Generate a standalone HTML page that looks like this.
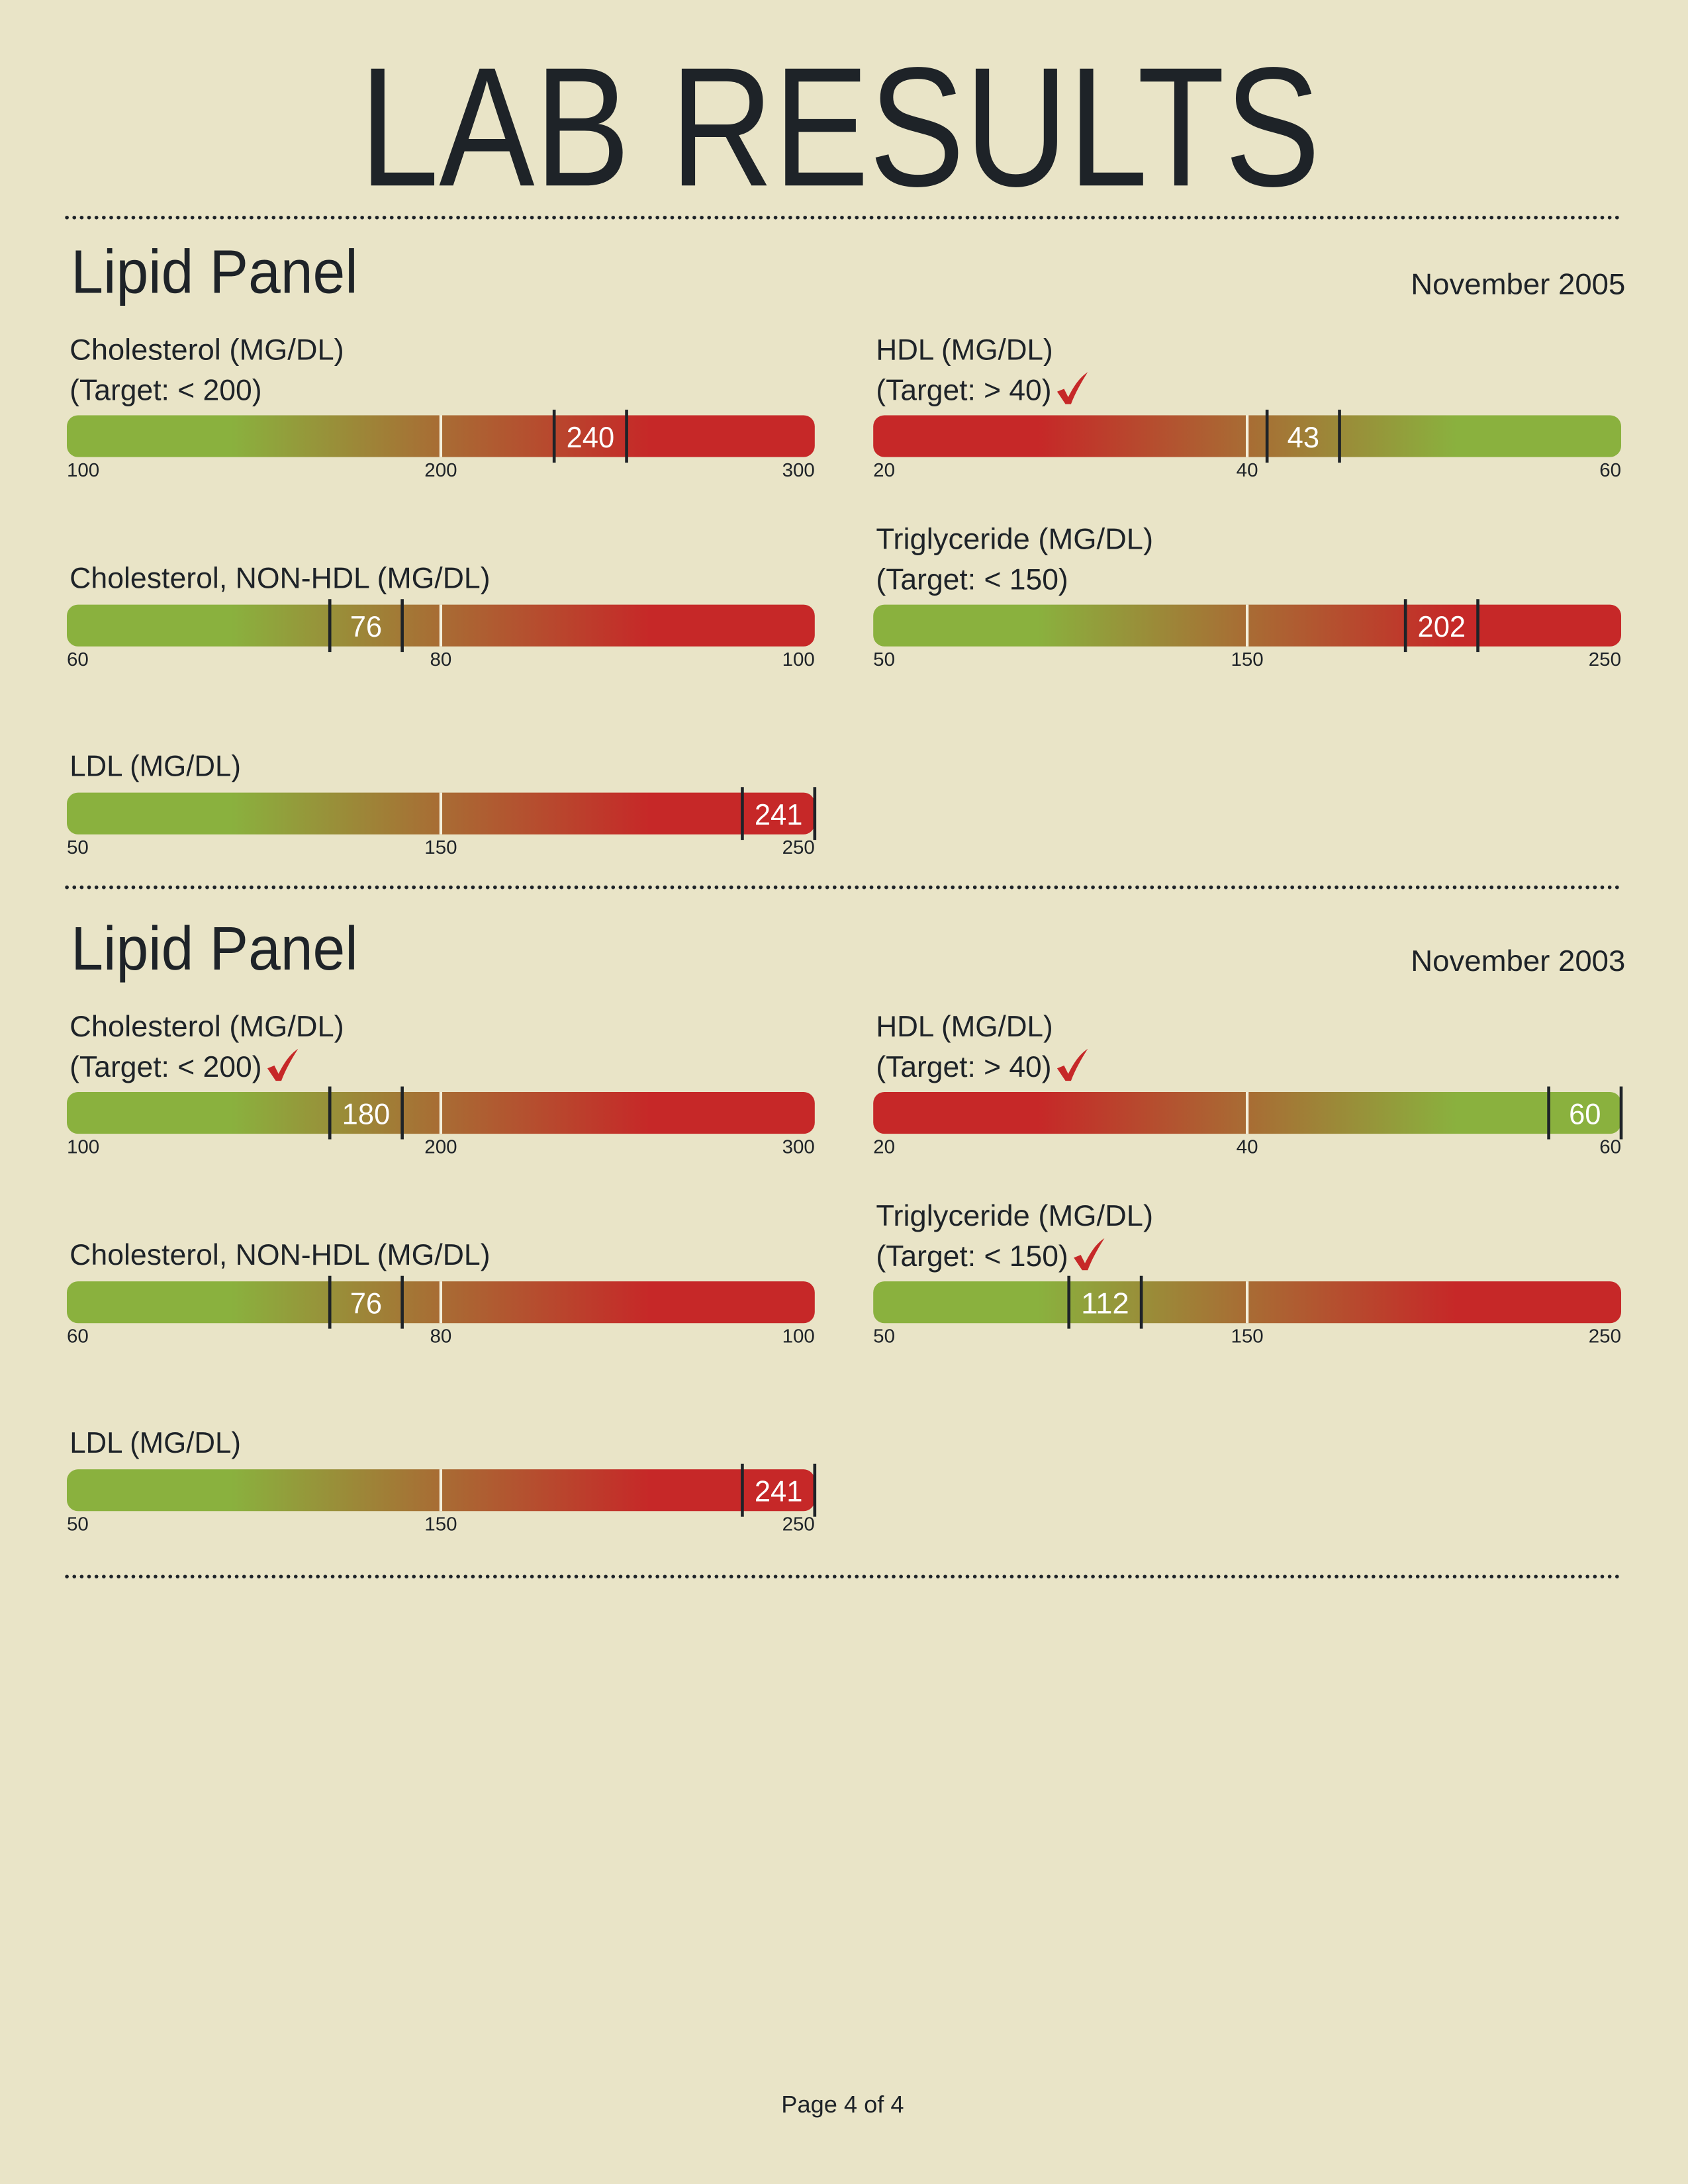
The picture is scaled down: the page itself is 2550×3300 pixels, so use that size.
<!DOCTYPE html>
<html><head><meta charset="utf-8">
<style>
html,body{margin:0;padding:0;background:#e9e4c7;}
svg{display:block;}
text{font-family:"Liberation Sans",sans-serif;fill:#1e2328;}
</style></head>
<body>
<svg id="page" width="2550" height="3300" viewBox="0 0 1212 1568" xmlns="http://www.w3.org/2000/svg">
<rect width="1212" height="1568" fill="#e9e4c7"/>
<defs>
<linearGradient id="gLow" x1="0" x2="1" y1="0" y2="0">
<stop offset="0" stop-color="#8ab13e"/><stop offset="0.22" stop-color="#8ab13e"/>
<stop offset="0.5" stop-color="#a86c34"/><stop offset="0.78" stop-color="#c62828"/><stop offset="1" stop-color="#c62828"/>
</linearGradient>
<linearGradient id="gHigh" x1="0" x2="1" y1="0" y2="0">
<stop offset="0" stop-color="#c62828"/><stop offset="0.22" stop-color="#c62828"/>
<stop offset="0.5" stop-color="#a86c34"/><stop offset="0.78" stop-color="#8ab13e"/><stop offset="1" stop-color="#8ab13e"/>
</linearGradient>
</defs>
<text x="603" y="133" font-size="122" text-anchor="middle" textLength="690" lengthAdjust="spacingAndGlyphs">LAB RESULTS</text>
<g id="content"></g>
<text x="605" y="1517" font-size="17" text-anchor="middle" textLength="88" lengthAdjust="spacingAndGlyphs">Page 4 of 4</text>
</svg>
<script>
// Data
const sectionDates = ["November 2005", "November 2003"];
const testNames = ["Cholesterol (MG/DL)", "HDL (MG/DL)", "Cholesterol, NON-HDL (MG/DL)", "Triglyceride (MG/DL)", "LDL (MG/DL)"];
const targetLabels = ["(Target: < 200)", "(Target: > 40)", "", "(Target: < 150)", ""];
const rangeMin = [100, 20, 60, 50, 50];
const rangeMax = [300, 60, 100, 250, 250];
const thresholds = [200, 40, 80, 150, 150];
const higherIsBetter = [false, true, false, false, false];
const values2005 = [240, 43, 76, 202, 241];
const values2003 = [180, 60, 76, 112, 241];
const met2005 = [false, true, false, false, false];
const met2003 = [true, true, false, true, false];

const sectionValues = [values2005, values2003];
const sectionMet = [met2005, met2003];

// layout (not data)
const NS = "http://www.w3.org/2000/svg";
const root = document.getElementById("content");
const colX = [48, 627], barW = 537, barH = 30;
const slotCol = [0, 1, 0, 1, 0];
const slotRow = [0, 0, 1, 1, 2];
const rowBarY = [298, 434, 569];
const nameWidths = {"Cholesterol (MG/DL)":197,"HDL (MG/DL)":127,"Cholesterol, NON-HDL (MG/DL)":302,"Triglyceride (MG/DL)":199,"LDL (MG/DL)":123};
const targetWidths = {"(Target: < 200)":138,"(Target: > 40)":126,"(Target: < 150)":138};
const sectionOffset = 486;

function mk(tag, attrs, parent){
  const e = document.createElementNS(NS, tag);
  for (const k in attrs) e.setAttribute(k, attrs[k]);
  (parent||root).appendChild(e);
  return e;
}
function txt(s, attrs, parent){ const e = mk("text", attrs, parent); e.textContent = s; return e; }
function scaleX(v, i, x0){ return x0 + (v - rangeMin[i]) / (rangeMax[i] - rangeMin[i]) * barW; }

function dotted(y, name){
  const l = mk("line", {x1:48, x2:1163, y1:y, y2:y, stroke:"#1e2328", "stroke-width":2.6, "stroke-dasharray":"0.1 5.2", "stroke-linecap":"round"});
  
  
}
function check(x, y, name){
  const p = mk("path", {d:`M${x} ${y-6} L${x+5} ${y-8} L${x+8} ${y-2} C${x+12} ${y-10} ${x+16} ${y-16} ${x+22} ${y-20} C${x+17} ${y-12} ${x+13} ${y-5} ${x+10} ${y+3} L${x+6} ${y+3} Z`, fill:"#c62828"});
  
  
}

dotted(156, "divider-top");
sectionDates.forEach((date, s) => {
  const off = s * sectionOffset;
  const g = mk("g", {});
  
  
  const h = txt("Lipid Panel", {x:51, y:210+off, "font-size":44, textLength:206, lengthAdjust:"spacingAndGlyphs"}, g);
  
  
  const d = txt(date, {x:1167, y:211+off, "font-size":21, "text-anchor":"end", textLength:154, lengthAdjust:"spacingAndGlyphs"}, g);
  
  

  testNames.forEach((name, i) => {
    const x0 = colX[slotCol[i]];
    const by = rowBarY[slotRow[i]] + off;
    const tg = mk("g", {}, g);
    
    
    const hasTarget = targetLabels[i] !== "";
    const nameY = hasTarget ? by - 40 : by - 12;
    const nt = txt(name, {x:x0+2, y:nameY, "font-size":21, textLength:nameWidths[name], lengthAdjust:"spacingAndGlyphs"}, tg);
    
    
    if (hasTarget){
      const tt = txt(targetLabels[i], {x:x0+2, y:by-11, "font-size":21, textLength:targetWidths[targetLabels[i]], lengthAdjust:"spacingAndGlyphs"}, tg);
      
      
      if (sectionMet[s][i]) check(x0 + 2 + targetWidths[targetLabels[i]] + 4, by - 11, 'target-met-check');
    }
    const bar = mk("rect", {x:x0, y:by, width:barW, height:barH, rx:8, fill: higherIsBetter[i] ? "url(#gHigh)" : "url(#gLow)"}, tg);
    
    
    const tx = scaleX(thresholds[i], i, x0);
    const tl = mk("line", {x1:tx, x2:tx, y1:by, y2:by+barH, stroke:"#f4f0dc", "stroke-width":2}, tg);
    
    
    const tickVals = [rangeMin[i], thresholds[i], rangeMax[i]];
    const anchors = ["start", "middle", "end"];
    tickVals.forEach((tv, k) => {
      let x = scaleX(tv, i, x0);
      const t = txt(String(tv), {x:x, y:by+44, "font-size":13.5, "text-anchor":anchors[k], textLength:String(tv).length*7.8, lengthAdjust:"spacingAndGlyphs"}, tg);
      
      
    });
    const v = sectionValues[s][i];
    let cx = scaleX(v, i, x0);
    let left = cx - 26, right = cx + 26;
    if (right > x0 + barW) { right = x0 + barW; left = right - 52; }
    if (left < x0) { left = x0; right = left + 52; }
    [left, right].forEach(mx => {
      const m = mk("line", {x1:mx, x2:mx, y1:by-4, y2:by+barH+4, stroke:"#1e2328", "stroke-width":2.2}, tg);
      
      
    });
    const vt = txt(String(v), {x:(left+right)/2, y:by+23, "font-size":21, "text-anchor":"middle", fill:"#ffffff", style:"fill:#ffffff", textLength:String(v).length*11.5, lengthAdjust:"spacingAndGlyphs"}, tg);
    
    
  });
  dotted(637 + off + (s===1 ? 9 : 0), 'divider-section-' + (s+1));
});
</script>
</body></html>
